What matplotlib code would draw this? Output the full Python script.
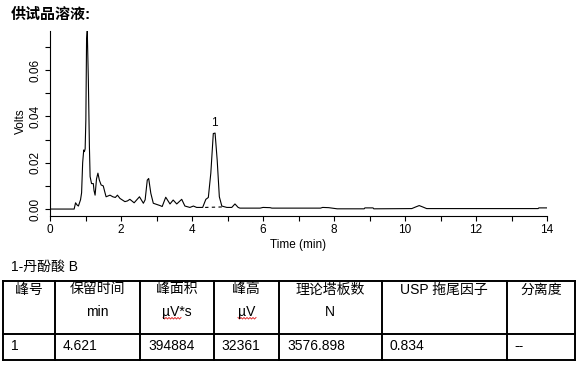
import matplotlib.pyplot as plt
from matplotlib.ticker import MultipleLocator, FormatStrFormatter

plt.rcParams['font.family'] = ['Liberation Sans', 'Noto Sans CJK SC']

# chromatogram trace (time in min, signal in volts)
times = [0.0, 0.68, 0.72, 0.76, 0.80, 0.86, 0.89, 0.92, 0.95, 0.97, 0.99,
         1.01, 1.03, 1.05, 1.08, 1.11, 1.13, 1.17, 1.22, 1.24, 1.27, 1.31,
         1.35, 1.39, 1.44, 1.50, 1.55, 1.58, 1.69, 1.77, 1.84, 1.90, 1.97,
         2.11, 2.18, 2.25, 2.37, 2.52, 2.63, 2.68, 2.74, 2.78, 2.84, 2.91,
         3.10, 3.16, 3.26, 3.38, 3.47, 3.57, 3.71, 3.80, 3.94, 4.04, 4.13,
         4.30, 4.39, 4.46, 4.53, 4.60, 4.65, 4.71, 4.77, 4.84, 4.98, 5.12,
         5.21, 5.30, 5.35, 5.92, 6.00, 6.20, 6.25, 7.62, 7.68, 7.85, 8.09,
         8.85, 8.87, 9.10, 9.12, 10.19, 10.30, 10.40, 10.50, 10.61, 13.75,
         13.77, 13.99]
volts = [0.0, 0.0, 0.0027, 0.0018, 0.0013, 0.004, 0.007, 0.020, 0.0255, 0.0248, 0.026,
         0.0385, 0.073, 0.077, 0.056, 0.027, 0.014, 0.011, 0.011, 0.008, 0.006, 0.013,
         0.0155, 0.0125, 0.0104, 0.010, 0.007, 0.0053, 0.006, 0.0053, 0.005, 0.006, 0.0046,
         0.0032, 0.0035, 0.0042, 0.0027, 0.0053, 0.0025, 0.004, 0.0125, 0.0132, 0.0068, 0.0025,
         0.0015, 0.0011, 0.0051, 0.0022, 0.0039, 0.0022, 0.0042, 0.0013, 0.0007, 0.0013, 0.0007,
         0.0007, 0.0042, 0.005, 0.0155, 0.0326, 0.0328, 0.021, 0.0053, 0.0013, 0.0007, 0.0007,
         0.0022, 0.0007, 0.0004, 0.0004, 0.0007, 0.0006, 0.0004, 0.0004, 0.0007, 0.0006, 0.0001,
         0.0001, 0.0005, 0.0005, 0.0001, 0.0002, 0.0009, 0.0015, 0.0009, 0.0002, 0.0002,
         0.0005, 0.0005]

# integration baseline of peak 1
base_t = [4.37, 4.84]
base_v = [0.0007, 0.0009]
peak_label = '1'
peak_t = 4.62
peak_v = 0.0345

title = '供试品溶液:'
compound = '1-丹酚酸 B'
header1 = ['峰号', '保留时间', '峰面积', '峰高', '理论塔板数', 'USP 拖尾因子', '分离度']
header2 = ['', 'min', 'µV*s', 'µV', 'N', '', '']
row = ['1', '4.621', '394884', '32361', '3576.898', '0.834', '--']

fig = plt.figure(figsize=(5.85, 3.65), dpi=100)
W, H = 585, 365

ax = fig.add_axes([50 / W, 1 - 216 / H, 497 / W, 185.3 / H])
ax.plot(times, volts, color='black', lw=0.8)
ax.plot(base_t, base_v, color='black', lw=0.8, ls=(0, (3, 3)))
ax.text(peak_t, peak_v, peak_label, ha='center', va='bottom', fontsize=8.5)

ax.set_xlim(0, 14)
ax.set_ylim(-0.003, 0.077)
ax.spines['top'].set_visible(False)
ax.spines['right'].set_visible(False)
ax.xaxis.set_major_locator(MultipleLocator(2))
ax.xaxis.set_minor_locator(MultipleLocator(1))
ax.yaxis.set_major_locator(MultipleLocator(0.02))
ax.yaxis.set_minor_locator(MultipleLocator(0.01))
ax.yaxis.set_major_formatter(FormatStrFormatter('%.2f'))
ax.tick_params(which='both', direction='out', length=3.5, width=0.8, labelsize=8.5)
ax.tick_params(axis='x', pad=2)
ax.tick_params(axis='y', pad=2.5)
for lab in ax.get_yticklabels():
    lab.set_rotation(90)
    lab.set_va('center')

ax.set_xlabel('Time (min)', fontsize=8.5)
ax.set_ylabel('Volts', fontsize=8.5)
ax.xaxis.set_label_coords(0.499, -0.157)
ax.xaxis.label.set_va('center')
ax.yaxis.set_label_coords(-0.058, 0.51)
ax.yaxis.label.set_va('center')

fig.text(11 / W, 1 - 15 / H, title, fontsize=10.8, fontweight='bold', va='center', ha='left')

# table drawn in pixel coordinates
tab = fig.add_axes([0, 0, 1, 1])
tab.set_xlim(0, W)
tab.set_ylim(H, 0)
tab.axis('off')

tab.text(11, 267, compound, fontsize=10, va='center', ha='left')

edges = [3, 54.5, 140, 213.5, 279, 381.5, 506.5, 575]
top, mid, bot = 281, 333.5, 360
for y in (top, mid, bot):
    tab.plot([edges[0], edges[-1]], [y, y], color='black', lw=1.4, solid_capstyle='projecting')
for x in edges:
    tab.plot([x, x], [top, bot], color='black', lw=1.4, solid_capstyle='projecting')

for i in range(len(header1)):
    cx = (edges[i] + edges[i + 1]) / 2
    tab.text(cx, 289.5, header1[i], fontsize=10, ha='center', va='center')
    if header2[i]:
        tab.text(cx, 312, header2[i], fontsize=10, ha='center', va='center')
    tab.text(edges[i] + 8, 346.5, row[i], fontsize=10, ha='left', va='center')

# spell-check squiggles under the unit labels
for x0, x1 in ((163, 182), (238, 256)):
    xs, ys = [], []
    x = x0
    k = 0
    while x <= x1:
        xs.append(x)
        ys.append(318 + (1 if k % 2 else -0.5))
        x += 1.5
        k += 1
    tab.plot(xs, ys, color='#e03030', lw=0.7)

fig.savefig('out.png', dpi=100)
